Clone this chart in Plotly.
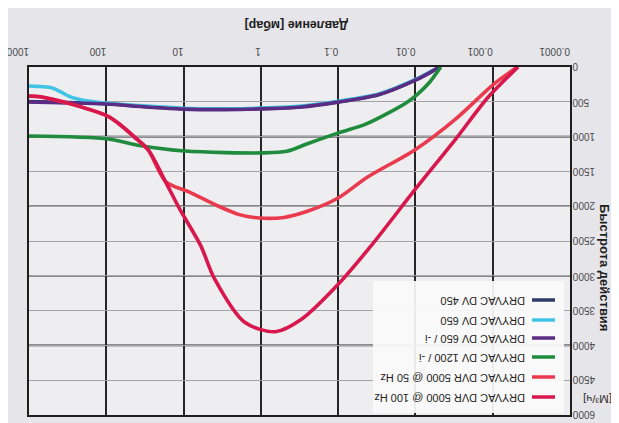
import plotly.graph_objects as go

# ---------------- data ----------------
p_dv450 = [1000, 300, 100, 30, 10, 3, 1, 0.3, 0.1, 0.03, 0.01, 0.006, 0.0049]
s_dv450 = [498, 511, 528, 571, 600, 607, 597, 570, 500, 396, 186, 57, 0]

p_dv650 = [1000, 800, 525, 400, 290, 190, 100, 30, 10, 3, 1, 0.3, 0.1, 0.03, 0.01, 0.006, 0.0049]
s_dv650 = [273, 278, 294, 350, 430, 482, 518, 562, 592, 600, 590, 562, 492, 388, 178, 52, 0]

p_dv650i = [1000, 300, 100, 30, 10, 3, 1, 0.3, 0.1, 0.03, 0.01, 0.006, 0.0049]
s_dv650i = [503, 515, 532, 575, 605, 612, 602, 575, 505, 400, 190, 60, 0]

p_dv1200i = [1000, 94, 39, 9.6, 0.93, 0.46, 0.25, 0.099, 0.044, 0.0134, 0.0096, 0.0066, 0.0047]
s_dv1200i = [992, 1034, 1123, 1207, 1234, 1211, 1103, 947, 822, 520, 400, 223, 0]

p_dvr50 = [1000, 706, 257, 96, 71, 42.6, 28.6, 16.9, 8.5, 3.77, 1.9, 1.05, 0.50, 0.24, 0.1, 0.042, 0.0102, 0.0030, 0.00096, 0.00048]
s_dvr50 = [420, 430, 548, 708, 805, 1014, 1196, 1650, 1795, 1986, 2121, 2170, 2161, 2066, 1882, 1584, 1192, 745, 242, 0]

p_dvr100 = [1000, 706, 257, 96, 71, 42.6, 28.6, 16.9, 11.2, 6.0, 4.0, 1.6, 0.65, 0.295, 0.102, 0.036, 0.0102, 0.0030, 0.00117, 0.00047]
s_dvr100 = [417, 427, 544, 704, 801, 1010, 1192, 1660, 2043, 2567, 3036, 3672, 3804, 3621, 3133, 2545, 1767, 1033, 445, 0]

series_names = ["DRYVAC DV 450", "DRYVAC DV 650", "DRYVAC DV 650 / -i",
                "DRYVAC DV 1200 / -i", "DRYVAC DVR 5000 @ 50 Hz", "DRYVAC DVR 5000 @ 100 Hz"]
series_colors = ["#2c3b68", "#3fc4e6", "#5b2c84", "#1f8b3d", "#e93a4e", "#d8174d"]

x_tickvals = [1000, 100, 10, 1, 0.1, 0.01, 0.001, 0.0001]
x_ticktext = ["1000", "100", "10", "1", "0.1", "0.01", "0.001", "0.0001"]
y_tickvals = [0, 500, 1000, 1500, 2000, 2500, 3000, 3500, 4000, 4500, 5000]
y_ticktext = ["0", "500", "1000", "1500", "2000", "2500", "3000", "3500", "4000", "4500", "6000"]
y_major = [1000, 2000, 3000, 4000]

x_title = "Давление [мбар]"
y_title = "Быстрота действия"
y_unit = "[М³/ч]"

# ---------------- figure ----------------
fig = go.Figure()
data = [(p_dv450, s_dv450), (p_dv650, s_dv650), (p_dv650i, s_dv650i),
        (p_dv1200i, s_dv1200i), (p_dvr50, s_dvr50), (p_dvr100, s_dvr100)]
for (px, sy), name, col in zip(data, series_names, series_colors):
    fig.add_trace(go.Scatter(x=px, y=sy, mode="lines", name=name,
                             line=dict(color=col, width=3.6, shape="spline", smoothing=0.8)))

W, H = 619, 423
L, R, T, B = 21, 57, 59, 16
pw, ph = W - L - R, H - T - B


def px2paper(xp, yp):
    return (xp - L) / pw, (H - B - yp) / ph


shapes = []
for v in y_major:
    shapes.append(dict(type="line", xref="paper", yref="y", x0=0, x1=1, y0=v, y1=v,
                       line=dict(color="#262626", width=1.6), layer="below"))

# legend box
lx0, ly0 = px2paper(365, 405)
lx1, ly1 = px2paper(556, 273)
shapes.append(dict(type="rect", xref="paper", yref="paper", x0=lx0, x1=lx1, y0=ly0, y1=ly1,
                   fillcolor="rgba(250,250,250,0.93)", line=dict(width=0), layer="above"))
annotations = []
rows = [292, 312, 330, 349, 369, 389]
for yrow, name, col in zip(rows, series_names, series_colors):
    sx0, sy0 = px2paper(524, yrow)
    sx1, _ = px2paper(547, yrow)
    shapes.append(dict(type="line", xref="paper", yref="paper", x0=sx0, x1=sx1, y0=sy0, y1=sy0,
                       line=dict(color=col, width=3.5), layer="above"))
    tx, ty = px2paper(519, yrow + 1)
    annotations.append(dict(xref="paper", yref="paper", x=tx, y=ty, text=name, showarrow=False,
                            textangle=180, xanchor="right", yanchor="middle",
                            font=dict(family="Liberation Sans, Arial", size=11, color="#222")))

# y tick labels (upside down, left-aligned beside the frame)
ylx, _ = px2paper(562, 0)
for v, t in zip(y_tickvals, y_ticktext):
    annotations.append(dict(xref="paper", yref="y", x=ylx, y=v, text=t, showarrow=False,
                            textangle=180, xanchor="left", yanchor="middle",
                            font=dict(family="Liberation Sans, Arial", size=10, color="#4a4a4a")))

ax, ay = px2paper(289, 17)
annotations.append(dict(xref="paper", yref="paper", x=ax, y=ay, text="<b>" + x_title + "</b>",
                        showarrow=False, textangle=180, xanchor="center", yanchor="middle",
                        font=dict(family="Liberation Sans, Arial", size=12.5, color="#1e1e1e")))
bx, by = px2paper(597, 259)
annotations.append(dict(xref="paper", yref="paper", x=bx, y=by, text="<b>" + y_title + "</b>",
                        showarrow=False, textangle=90, xanchor="center", yanchor="middle",
                        font=dict(family="Liberation Sans, Arial", size=13, color="#1e1e1e")))
ux, uy = px2paper(590, 391)
annotations.append(dict(xref="paper", yref="paper", x=ux, y=uy, text=y_unit,
                        showarrow=False, textangle=180, xanchor="center", yanchor="middle",
                        font=dict(family="Liberation Sans, Arial", size=11.5, color="#333")))

fig.update_layout(
    width=W, height=H, margin=dict(l=L, r=R, t=T, b=B, autoexpand=False),
    paper_bgcolor="#e6e5ea", plot_bgcolor="#eeeef1",
    showlegend=False,
    font=dict(family="Liberation Sans, Arial", color="#3a3a3a"),
    xaxis=dict(type="log", range=[3, -4], side="top", tickvals=x_tickvals, ticktext=x_ticktext,
               tickangle=180, showgrid=True, gridcolor="#262626", gridwidth=1.6,
               showline=True, mirror=True, linecolor="#1e1e1e", linewidth=2, ticks="",
               ticklabelstandoff=3, ticklabeloverflow="allow", automargin=False,
               tickfont=dict(size=10, color="#4a4a4a"), zeroline=False),
    yaxis=dict(range=[5000, 0], side="right", tickvals=y_tickvals, showticklabels=False,
               showgrid=True, gridcolor="#a4a4a8", gridwidth=1, automargin=False,
               showline=True, mirror=True, linecolor="#1e1e1e", linewidth=2, ticks="",
               zeroline=False),
    shapes=shapes, annotations=annotations,
)

fig.write_html("out.html")
